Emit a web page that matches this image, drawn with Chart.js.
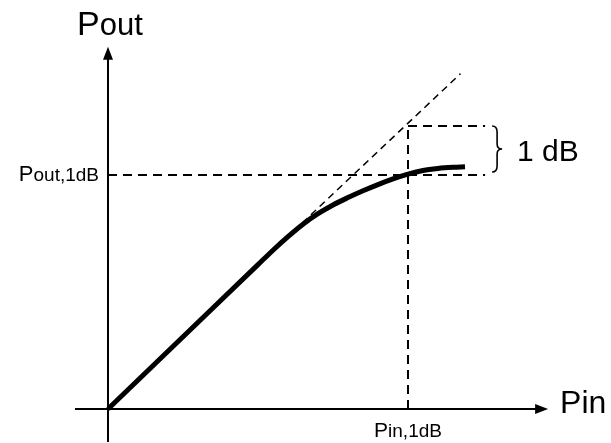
<!DOCTYPE html>
<html>
<head>
<meta charset="utf-8">
<script src="https://cdn.jsdelivr.net/npm/chart.js@4.4.1/dist/chart.umd.min.js"></script>
<style>
  html, body { margin: 0; padding: 0; background: #ffffff; }
  #wrap { width: 611px; height: 443px; }
</style>
</head>
<body>
<div id="wrap"><canvas id="c" width="611" height="443"></canvas></div>
<script>
// ---- data (schematic units: Pin and Pout) ----
const curvePin  = [0, 5.0, 5.5, 6.0, 6.5, 7.0, 7.5, 8.0, 8.5, 9.0, 9.5, 10.0, 10.5, 11.0, 11.5, 11.9];
const curvePout = [0, 5.10, 5.61, 6.09, 6.53, 6.90, 7.21, 7.47, 7.71, 7.93, 8.13, 8.30, 8.43, 8.50, 8.54, 8.56];
const linearPin  = [5.6, 11.75];
const linearPout = [5.7, 11.85];
const pin1dB = 10.0;
const pout1dB = 8.27;
const poutLinearAt1dB = 10.0;
const markerRightPin = 12.57;
const axisLabels = { x: "Pin", y: "Pout" };
const pointLabels = { pin: ["P", "in,1dB"], pout: ["P", "out,1dB"], gap: "1 dB" };

const toPts = (xs, ys) => xs.map((x, i) => ({ x: x, y: ys[i] }));

const FONT = "'Liberation Sans', Arial, sans-serif";

const overlay = {
  id: 'overlay',
  beforeDatasetsDraw(chart) {
    const ctx = chart.ctx;
    const xs = chart.scales.x, ys = chart.scales.y;
    const x0 = xs.getPixelForValue(0), y0 = ys.getPixelForValue(0);
    ctx.save();
    ctx.strokeStyle = '#000'; ctx.fillStyle = '#000';
    ctx.lineWidth = 2;
    // vertical axis
    const yTop = ys.getPixelForValue(12.8);
    const yBot = ys.getPixelForValue(-1.17);
    ctx.beginPath(); ctx.moveTo(x0, yBot); ctx.lineTo(x0, yTop + 10); ctx.stroke();
    ctx.beginPath(); ctx.moveTo(x0, yTop); ctx.lineTo(x0 - 5, yTop + 13); ctx.lineTo(x0 + 5, yTop + 13); ctx.closePath(); ctx.fill();
    // horizontal axis
    const xL = xs.getPixelForValue(-1.1);
    const xR = xs.getPixelForValue(14.67);
    ctx.beginPath(); ctx.moveTo(xL, y0); ctx.lineTo(xR - 10, y0); ctx.stroke();
    ctx.beginPath(); ctx.moveTo(xR, y0); ctx.lineTo(xR - 13, y0 - 5); ctx.lineTo(xR - 13, y0 + 5); ctx.closePath(); ctx.fill();
    ctx.restore();
  },
  afterDraw(chart) {
    const ctx = chart.ctx;
    const xs = chart.scales.x, ys = chart.scales.y;
    const x0 = xs.getPixelForValue(0);
    const y0 = ys.getPixelForValue(0);
    const yP = ys.getPixelForValue(pout1dB);
    const yL = ys.getPixelForValue(poutLinearAt1dB);
    const xP = xs.getPixelForValue(pin1dB);
    const xM = xs.getPixelForValue(markerRightPin);
    ctx.save();
    ctx.fillStyle = '#000'; ctx.strokeStyle = '#000';
    ctx.textBaseline = 'alphabetic';

    function mixed(parts, sizes, x, y, align) {
      const widths = parts.map((p, i) => { ctx.font = sizes[i] + 'px ' + FONT; return ctx.measureText(p).width; });
      const total = widths.reduce((a, b) => a + b, 0);
      let cx = align === 'right' ? x - total : (align === 'center' ? x - total / 2 : x);
      parts.forEach((p, i) => { ctx.font = sizes[i] + 'px ' + FONT; ctx.textAlign = 'left'; ctx.fillText(p, cx, y); cx += widths[i]; });
    }
    // Y-axis title
    mixed([axisLabels.y.slice(0, 1), axisLabels.y.slice(1)], [34, 31], x0 - 31, 35, 'left');
    // X-axis title
    mixed([axisLabels.x.slice(0, 1), axisLabels.x.slice(1)], [32, 32], xs.getPixelForValue(15.07), y0 + 4, 'left');
    // Pout,1dB
    mixed(pointLabels.pout, [22, 19], x0 - 9, yP + 6, 'right');
    // Pin,1dB
    mixed(pointLabels.pin, [21, 19], xP, y0 + 28, 'center');

    // brace
    const bx = xM + 7, top = yL, bot = yP - 3, mid = (top + bot) / 2;
    ctx.lineWidth = 1.6;
    ctx.beginPath();
    ctx.moveTo(bx, top);
    ctx.quadraticCurveTo(bx + 5, top, bx + 5, top + 6);
    ctx.lineTo(bx + 5, mid - 5);
    ctx.quadraticCurveTo(bx + 5, mid, bx + 10, mid);
    ctx.quadraticCurveTo(bx + 5, mid, bx + 5, mid + 5);
    ctx.lineTo(bx + 5, bot - 6);
    ctx.quadraticCurveTo(bx + 5, bot, bx, bot);
    ctx.stroke();
    // 1 dB
    ctx.font = '30px ' + FONT; ctx.textAlign = 'left';
    ctx.fillText(pointLabels.gap, bx + 25, mid + 12);
    ctx.restore();
  }
};

new Chart(document.getElementById('c'), {
  type: 'line',
  data: {
    datasets: [
      { data: toPts(curvePin, curvePout), borderColor: '#000', borderWidth: 5, pointRadius: 0,
        cubicInterpolationMode: 'monotone', fill: false, borderCapStyle: 'butt' },
      { data: toPts(linearPin, linearPout), borderColor: '#000', borderWidth: 1.5, borderDash: [7, 5], pointRadius: 0, fill: false },
      { data: toPts([0, markerRightPin], [pout1dB, pout1dB]), borderColor: '#000', borderWidth: 2, borderDash: [9, 6], pointRadius: 0, fill: false },
      { data: toPts([pin1dB, markerRightPin], [poutLinearAt1dB, poutLinearAt1dB]), borderColor: '#000', borderWidth: 2, borderDash: [9, 6], pointRadius: 0, fill: false },
      { data: toPts([pin1dB, pin1dB], [0, poutLinearAt1dB]), borderColor: '#000', borderWidth: 2, borderDash: [9, 6], pointRadius: 0, fill: false }
    ]
  },
  options: {
    responsive: false,
    animation: false,
    devicePixelRatio: 1,
    layout: { padding: 0 },
    plugins: { legend: { display: false }, tooltip: { enabled: false }, title: { display: false } },
    scales: {
      x: { type: 'linear', display: false, min: -3.6, max: 16.7667 },
      y: { type: 'linear', display: false, min: -1.2014, max: 14.452 }
    }
  },
  plugins: [overlay]
});
</script>
</body>
</html>
